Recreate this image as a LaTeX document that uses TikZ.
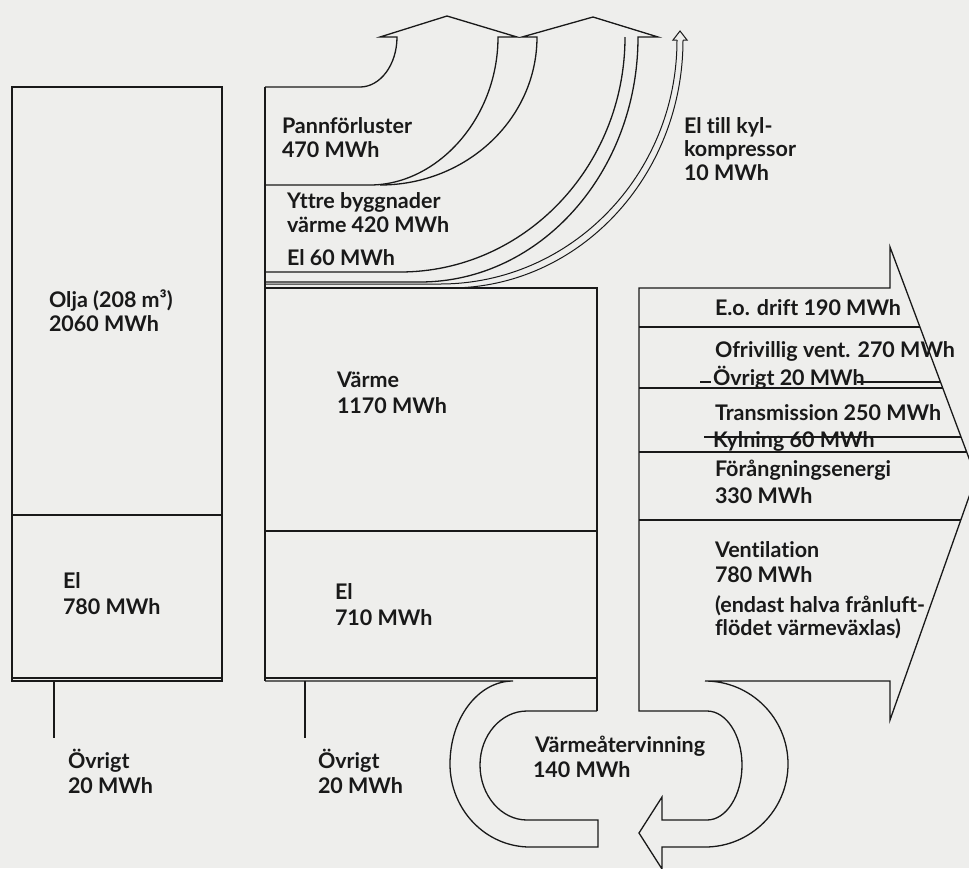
\documentclass[tikz,border=0pt]{standalone}
\usepackage{fontspec}
\setmainfont{Lato}[RawFeature={-liga}]
\usetikzlibrary{calc}
\definecolor{paper}{RGB}{238,238,236}
\definecolor{ink}{RGB}{25,25,25}
\tikzset{
  ln/.style={draw=ink, line width=1.3pt, line join=miter},
  thin/.style={draw=ink, line width=1.0pt},
  lbl/.style={anchor=base west, inner sep=0pt, outer sep=0pt, text=ink, font=\fontsize{21.5}{26}\selectfont\bfseries}
}
\begin{document}
\begin{tikzpicture}[x=1pt, y=-1pt]
\fill[paper] (0,0) rectangle (969,868);
\useasboundingbox (0,0) rectangle (969,868);
\begin{scope}
\clip (0,0) rectangle (969,868);
% ---------- left box ----------
\draw[ln] (12,87) rectangle (222,681);
\draw[ln] (12,515) -- (222,515);
\draw[ln] (12,678) -- (222,678);
\draw[ln] (54,681) -- (54,738);
% ---------- middle box ----------
\draw[ln] (265,87) -- (265,681);
\draw[ln] (265,288) -- (597,288) -- (597,711);
\draw[ln] (265,531) -- (597,531);
\draw[ln] (265,678) -- (597,678);
\draw[ln] (305,681) -- (305,738);
% top: Pannfoerluster arrow
\draw[ln] (265,185) -- (370,185) .. controls (437,185) and (498,118.7) .. (498,37)
  -- (517,37) -- (447,16) -- (380,37) -- (397,37)
  .. controls (397,64.6) and (380.4,87) .. (360,87) -- (265,87);
% second arrow (Yttre byggnader + El 60)
\draw[ln] (380,185) .. controls (466.7,185) and (537,118.7) .. (537,37)
  -- (522,37) -- (593,17) -- (658,37) -- (638,37)
  .. controls (638,172.2) and (540.3,282) .. (420,282) -- (265,282);
\draw[ln] (625,37) .. controls (625,166.7) and (524.2,272) .. (400,272) -- (265,272);
% thin arrow: El till kylkompressor
\draw[thin] (677,40) .. controls (677,174.7) and (570.8,284) .. (440,284) -- (265,284);
\draw[thin] (683,40) .. controls (683,176.9) and (578.6,288) .. (450,288);
\draw[thin] (677,40) -- (673,40) -- (680,31) -- (687,40) -- (683,40);
% bottom recovery loop, left part
\draw[ln] (265,681) -- (513,681)
  .. controls (478.2,681) and (450,718.2) .. (450,764)
  .. controls (450,809.8) and (485.8,847) .. (530,847)
  -- (598,847) -- (598,820) -- (527,820)
  .. controls (501.1,820) and (480,795.4) .. (480,765)
  .. controls (480,735.2) and (501.1,711) .. (527,711) -- (597,711);
% ---------- right arrow with recovery part ----------
\draw[ln] (639,711) -- (639,288) -- (890,288) -- (890,247) -- (976,477) -- (890,720) -- (890,681) -- (705,681)
  .. controls (750.8,681) and (788,718.2) .. (788,764)
  .. controls (788,809.8) and (750.8,847) .. (705,847)
  -- (662,847) -- (662,869) -- (639,833) -- (662,797) -- (662,820) -- (707,820)
  .. controls (726.3,820) and (742,795.4) .. (742,765)
  .. controls (742,735.2) and (726.3,711) .. (707,711) -- cycle;
\draw[ln] (639,327) -- (919.9,327);
\draw[ln] (700,382) -- (711,382);
\draw[ln] (857,382) -- (940.5,382);
\draw[ln] (639,388) -- (942.7,388);
\draw[ln] (704,437) -- (961,437);
\draw[ln] (639,452) -- (966.7,452);
\draw[ln] (639,520) -- (960.8,520);
\end{scope}
% ---------- texts ----------
\node[lbl] (olja1) at (49,307) {Olja (208 m³)};
\node[lbl] (olja2) at (49,331) {2060 MWh};
\node[lbl] (el1a) at (63,588) {El};
\node[lbl] (el1b) at (63,614) {780 MWh};
\node[lbl] (ov1a) at (68,768) {Övrigt};
\node[lbl] (ov1b) at (68,793) {20 MWh};
\node[lbl] (pann1) at (282,133) {Pannförluster};
\node[lbl] (pann2) at (282,157) {470 MWh};
\node[lbl] (ytt1) at (287,208) {Yttre byggnader};
\node[lbl] (ytt2) at (287,232) {värme 420 MWh};
\node[lbl] (el60) at (287,265) {El 60 MWh};
\node[lbl] (varme1) at (337,387) {Värme};
\node[lbl] (varme2) at (337,413) {1170 MWh};
\node[lbl] (el2a) at (335,599) {El};
\node[lbl] (el2b) at (335,625) {710 MWh};
\node[lbl] (ov2a) at (318,768) {Övrigt};
\node[lbl] (ov2b) at (318,793) {20 MWh};
\node[lbl] (kyl1) at (684,133) {El till kyl-};
\node[lbl] (kyl2) at (684,156) {kompressor};
\node[lbl] (kyl3) at (684,180) {10 MWh};
\node[lbl] (eo) at (715,315) {E.o. drift 190 MWh};
\node[lbl] (ofr) at (715,357) {Ofrivillig vent. 270 MWh};
\node[lbl] (ovr) at (713,385) {Övrigt 20 MWh};
\node[lbl] (tra) at (715,420) {Transmission 250 MWh};
\node[lbl] (kyln) at (713,447) {Kylning 60 MWh};
\node[lbl] (for1) at (715,476) {Förångningsenergi};
\node[lbl] (for2) at (715,503) {330 MWh};
\node[lbl] (ven1) at (715,557) {Ventilation};
\node[lbl] (ven2) at (715,582) {780 MWh};
\node[lbl] (end1) at (715,612) {(endast halva frånluft-};
\node[lbl] (end2) at (715,635) {flödet värmeväxlas)};
\node[lbl] (vat1) at (535,752) {Värmeåtervinning};
\node[lbl] (vat2) at (533,777) {140 MWh};
\end{tikzpicture}
\end{document}
